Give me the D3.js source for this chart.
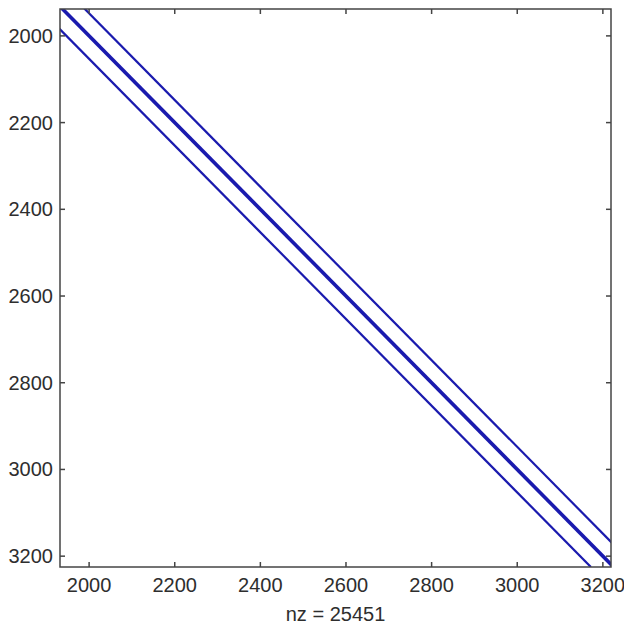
<!DOCTYPE html>
<html>
<head>
<meta charset="utf-8">
<script src="https://cdn.jsdelivr.net/npm/d3@7"></script>
<style>
  body { margin: 0; background: #fff; }
  text { font-family: "Liberation Sans", Arial, sans-serif; fill: #2e2e2e; }
</style>
</head>
<body>
<svg id="chart" width="624" height="626"></svg>
<script>
// spy plot view of a banded sparse matrix (zoomed window)
var xDomain = [1932, 3219];
var yDomain = [1938, 3225];
var tickValues = [2000, 2200, 2400, 2600, 2800, 3000, 3200];
var matrixSize = 3225;
// diagonal offsets (col - row) that hold the nonzeros
var bandOffsets = [-53, 0, 52];
var bandWidths = [2.2, 3.6, 2.2];
var nzCount = 25451;

var margin = {top: 9, right: 13, bottom: 59, left: 60};
var svg = d3.select('#chart');
var width = 624 - margin.left - margin.right;
var height = 626 - margin.top - margin.bottom;

var x = d3.scaleLinear().domain(xDomain).range([0, width]);
var y = d3.scaleLinear().domain(yDomain).range([0, height]);

var g = svg.append('g').attr('transform', 'translate(' + margin.left + ',' + margin.top + ')');

g.append('clipPath').attr('id', 'clip')
    .append('rect').attr('width', width).attr('height', height);

var bands = g.append('g').attr('clip-path', 'url(#clip)');

bandOffsets.forEach(function(k, i){
    var r0 = Math.max(1, 1 - k), r1 = Math.min(matrixSize, matrixSize - k);
    bands.append('line')
        .attr('x1', x(r0 + k)).attr('y1', y(r0))
        .attr('x2', x(r1 + k)).attr('y2', y(r1))
        .attr('stroke', '#1a1aae')
        .attr('stroke-width', bandWidths[i]);
});

var axisColor = '#444';
var tick = 5;

// box
g.append('rect').attr('width', width).attr('height', height)
    .attr('fill', 'none').attr('stroke', axisColor).attr('stroke-width', 1.5);

// inward ticks on all four sides
tickValues.forEach(function(v){
    var px = x(v), py = y(v);
    g.append('line').attr('x1', px).attr('x2', px).attr('y1', height).attr('y2', height - tick);
    g.append('line').attr('x1', px).attr('x2', px).attr('y1', 0).attr('y2', tick);
    g.append('line').attr('y1', py).attr('y2', py).attr('x1', 0).attr('x2', tick);
    g.append('line').attr('y1', py).attr('y2', py).attr('x1', width).attr('x2', width - tick);
});
g.selectAll('line:not([stroke])').attr('stroke', axisColor).attr('stroke-width', 1.5);

g.selectAll('.xlab').data(tickValues).enter().append('text')
    .attr('class', 'xlab')
    .attr('x', function(d){ return x(d); })
    .attr('y', height + 25)
    .attr('text-anchor', 'middle')
    .style('font-size', '20px')
    .text(function(d){ return d; });

g.selectAll('.ylab').data(tickValues).enter().append('text')
    .attr('class', 'ylab')
    .attr('x', -7)
    .attr('y', function(d){ return y(d); })
    .attr('dy', '0.35em')
    .attr('text-anchor', 'end')
    .style('font-size', '20px')
    .text(function(d){ return d; });

g.append('text')
    .attr('x', width / 2)
    .attr('y', height + 54)
    .attr('text-anchor', 'middle')
    .style('font-size', '20px')
    .text('nz = ' + nzCount);
</script>
</body>
</html>
